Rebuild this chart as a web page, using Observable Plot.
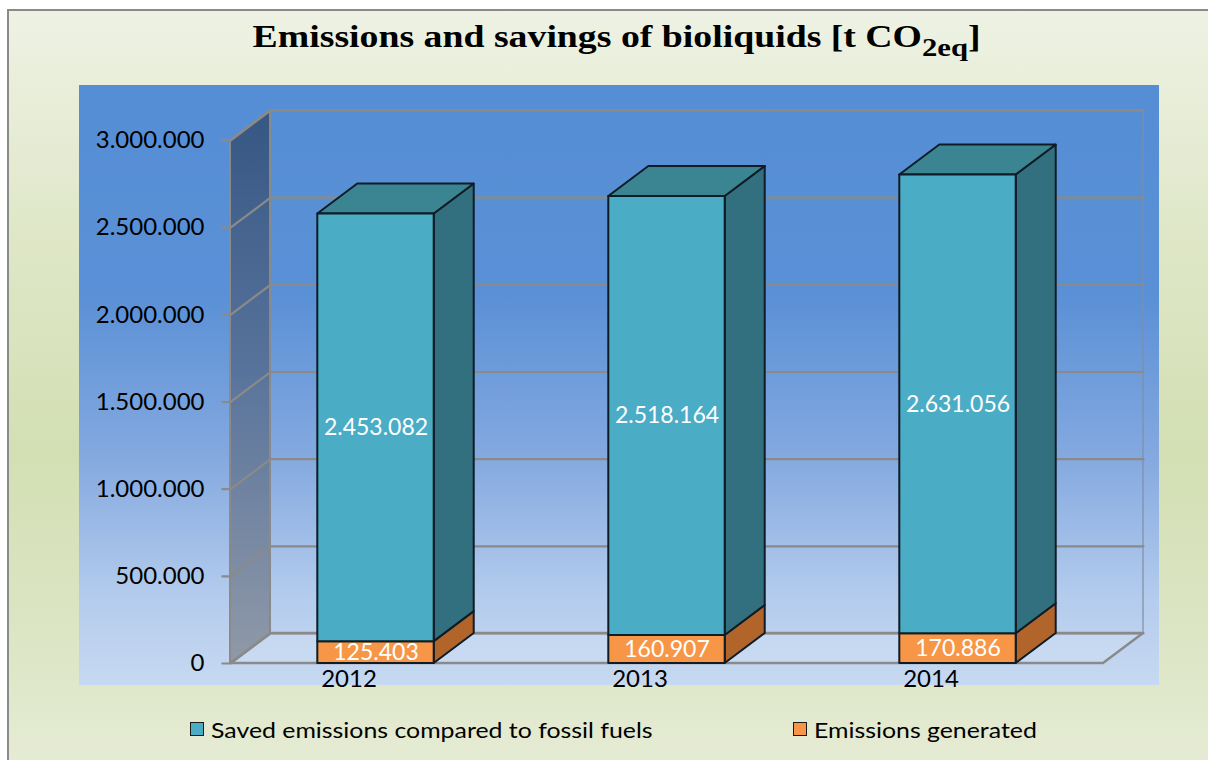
<!DOCTYPE html>
<html>
<head>
<meta charset="utf-8">
<script src="https://cdn.jsdelivr.net/npm/d3@7"></script>
<script src="https://cdn.jsdelivr.net/npm/@observablehq/plot@0.6"></script>
<style>
  html, body { margin: 0; padding: 0; background: #fff; }
  #page { position: relative; width: 1208px; height: 760px; overflow: hidden; background: #fff; }
  #frame {
    position: absolute; left: 7px; top: 9px; width: 1260px; height: 800px;
    box-sizing: border-box; border: 2px solid #8a8a8a;
    background: linear-gradient(to bottom, #eef2e4 0%, #dfe7c8 28%, #d3dfb3 55%, #dce5c4 78%, #e8eed9 100%);
  }
  #title {
    position: absolute; left: 0; top: 18px; width: 1233px; text-align: center;
    font-family: "Liberation Serif", "Times New Roman", serif; font-weight: bold;
    font-size: 32px; line-height: 36px; color: #000; white-space: nowrap;
    transform: scaleX(1.18); transform-origin: 616px 0;
  }
  #title sub { font-size: 26px; vertical-align: baseline; position: relative; top: 9px; }
  #chart {
    position: absolute; left: 79px; top: 85px; width: 1080px; height: 600px;
    background: linear-gradient(to bottom, #558ed5 0%, #5a90d6 35%, #84a9df 62%, #b3cbed 85%, #c7d9f1 100%);
  }
  #chart svg { display: block; }
  .legend-item {
    position: absolute; top: 716px; height: 26px; display: flex; align-items: center;
    font-family: Lato, "Open Sans", sans-serif; font-size: 22px; color: #000; white-space: nowrap;
  }
  .legend-item span.label { display: inline-block; transform: scaleX(1.13); transform-origin: 0 50%; }
  .swatch { width: 12px; height: 12px; border: 1.5px solid #1a1a1a; margin-right: 7px; }
</style>
</head>
<body>
<div id="page">
  <div id="frame"></div>
  <div id="title">Emissions and savings of bioliquids [t CO<sub>2eq</sub>]</div>
  <div id="chart"></div>
  <div class="legend-item" style="left:190px"><span class="swatch" style="background:#4bacc6"></span><span class="label">Saved emissions compared to fossil fuels</span></div>
  <div class="legend-item" style="left:793px"><span class="swatch" style="background:#f79646"></span><span class="label">Emissions generated</span></div>
</div>
<script>
// Chart values
const years = ["2012", "2013", "2014"];
const savedEmissions = [2453082, 2518164, 2631056];
const generatedEmissions = [125403, 160907, 170886];
const yTicks = [0, 500000, 1000000, 1500000, 2000000, 2500000, 3000000];

// Series styling
const colors = {
  savedFront: "#4bacc6", savedSide: "#32707f", savedTop: "#3b8593",
  genFront: "#f79646", genSide: "#b1652b",
  outline: "#0f1c26", grid: "#8a8a8a"
};

// Number format with dots as thousands separators
const fmt = d3.formatLocale({decimal: ",", thousands: ".", grouping: [3], currency: ["", ""]}).format(",d");

// 3D geometry: bar width in category units, depth offset in x (category units) and y (value units)
const YMAX = 3000000;
const BAR = 0.4;
const DX = 0.1375;
const DY = 172000;
const X0 = -0.5, X1 = years.length - 0.5;
const TICK = 0.028;

const rows = years.map((year, i) => ({
  year, i, gen: generatedEmissions[i], saved: savedEmissions[i],
  total: generatedEmissions[i] + savedEmissions[i]
}));

// Front faces
const genFront = rows.map(d => ({i: d.i, x1: d.i - BAR / 2, x2: d.i + BAR / 2, y1: 0, y2: d.gen}));
const savedFront = rows.map(d => ({i: d.i, x1: d.i - BAR / 2, x2: d.i + BAR / 2, y1: d.gen, y2: d.total}));

// Side faces (parallelograms going back and up)
const side = (lo, hi, d) => [
  {i: d.i, x: d.i + BAR / 2, y1: lo, y2: hi},
  {i: d.i, x: d.i + BAR / 2 + DX, y1: lo + DY, y2: hi + DY}
];
const genSide = rows.flatMap(d => side(0, d.gen, d));
const savedSide = rows.flatMap(d => side(d.gen, d.total, d));

// Top faces
const savedTop = rows.flatMap(d => [
  {i: d.i, y: d.total, x1: d.i - BAR / 2, x2: d.i + BAR / 2},
  {i: d.i, y: d.total + DY, x1: d.i - BAR / 2 + DX, x2: d.i + BAR / 2 + DX}
]);

// Gridlines: tick mark, slanted side-wall segment, back-wall segment
const gridPts = yTicks.flatMap(v => [
  {v, x: X0 - TICK, y: v},
  {v, x: X0, y: v},
  {v, x: X0 + DX, y: v + DY},
  {v, x: X1 + DX, y: v + DY}
]);

const leftWall = [
  {x: X0, y1: 0, y2: YMAX},
  {x: X0 + DX, y1: DY, y2: YMAX + DY}
];
const floor = [
  {y: 0, x1: X0, x2: X1},
  {y: DY, x1: X0 + DX, x2: X1 + DX}
];
const backWall = [{x1: X0 + DX, x2: X1 + DX, y1: DY, y2: YMAX + DY}];

function gradientDefs() {
  const ns = "http://www.w3.org/2000/svg";
  const defs = document.createElementNS(ns, "defs");
  const g = document.createElementNS(ns, "linearGradient");
  g.setAttribute("id", "wallFill");
  g.setAttribute("x1", "0"); g.setAttribute("y1", "0");
  g.setAttribute("x2", "0"); g.setAttribute("y2", "1");
  [["0%", "#365783"], ["45%", "#56729b"], ["100%", "#9099a8"]].forEach(([o, c]) => {
    const s = document.createElementNS(ns, "stop");
    s.setAttribute("offset", o); s.setAttribute("stop-color", c);
    g.appendChild(s);
  });
  defs.appendChild(g);
  return defs;
}

const face = {stroke: colors.outline, strokeWidth: 2, strokeLinejoin: "round"};

const chart = Plot.plot({
  width: 1080,
  height: 600,
  marginLeft: 151,
  marginRight: 56,
  marginTop: 55,
  marginBottom: 22,
  style: {background: "transparent", fontFamily: "Lato, sans-serif", overflow: "visible"},
  x: {domain: [X0, X1], axis: null},
  y: {domain: [0, YMAX], axis: null},
  marks: [
    gradientDefs,
    // back wall outline
    Plot.rect(backWall, {x1: "x1", x2: "x2", y1: "y1", y2: "y2", fill: "none", stroke: "#7f8ea6", strokeWidth: 1.2}),
    // floor
    Plot.areaX(floor, {y: "y", x1: "x1", x2: "x2", fill: "#cfe0f4", fillOpacity: 0.5, stroke: colors.grid, strokeWidth: 2.5}),
    // left side wall
    Plot.areaY(leftWall, {x: "x", y1: "y1", y2: "y2", fill: "url(#wallFill)", stroke: colors.grid, strokeWidth: 2}),
    // gridlines with ticks
    Plot.line(gridPts, {x: "x", y: "y", z: "v", stroke: colors.grid, strokeWidth: 2.2}),
    // y tick labels
    Plot.text(yTicks, {x: X0, y: d => d, text: d => fmt(d), textAnchor: "end", dx: -26, fontSize: 24, fill: "#000"}),
    // emissions generated
    Plot.areaY(genSide, {x: "x", y1: "y1", y2: "y2", z: "i", fill: colors.genSide, ...face}),
    Plot.rect(genFront, {x1: "x1", x2: "x2", y1: "y1", y2: "y2", fill: colors.genFront, ...face}),
    // saved emissions
    Plot.areaY(savedSide, {x: "x", y1: "y1", y2: "y2", z: "i", fill: colors.savedSide, ...face}),
    Plot.areaX(savedTop, {y: "y", x1: "x1", x2: "x2", z: "i", fill: colors.savedTop, ...face}),
    Plot.rect(savedFront, {x1: "x1", x2: "x2", y1: "y1", y2: "y2", fill: colors.savedFront, ...face}),
    // value labels
    Plot.text(rows, {x: "i", y: d => (d.gen + d.total) / 2, text: d => fmt(d.saved), fill: "#fff", fontSize: 23}),
    Plot.text(rows, {x: "i", y: d => d.gen / 2, text: d => fmt(d.gen), fill: "#fff", fontSize: 23}),
    // category labels
    Plot.text(rows, {x: "i", y: 0, text: "year", dx: -27, dy: 16, fontSize: 24, fill: "#000"})
  ]
});

document.getElementById("chart").appendChild(chart);
</script>
</body>
</html>
